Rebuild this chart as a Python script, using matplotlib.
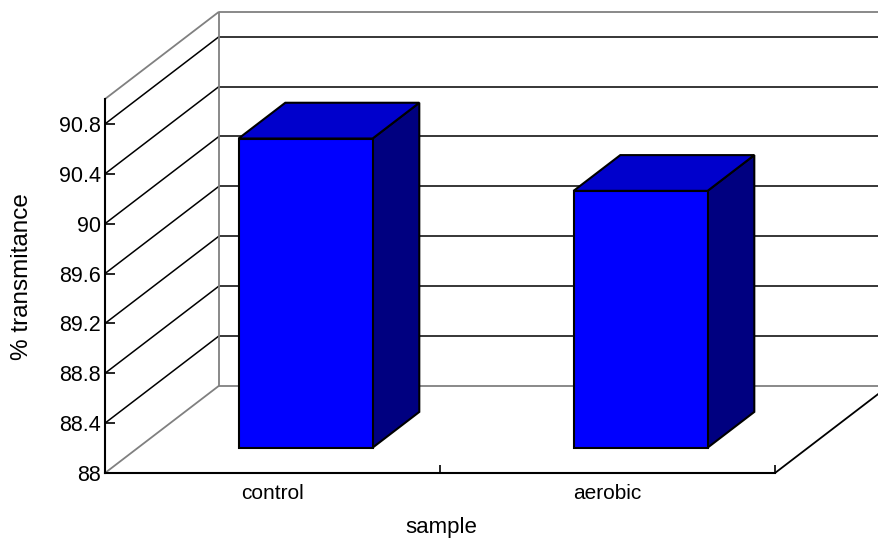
import numpy as np
import matplotlib
matplotlib.use("Agg")
import matplotlib.pyplot as plt
from matplotlib.patches import Polygon

plt.rcParams['font.family'] = ['Liberation Sans', 'DejaVu Sans']

# data
categories = ["control", "aerobic"]
transmittance = [90.48, 90.06]
y_ticks = [88.0, 88.4, 88.8, 89.2, 89.6, 90.0, 90.4, 90.8]
y_min, y_max = 88.0, 91.0

# oblique projection: depth z (0 = front, 1 = back) shifts x and y in data units
DX = 114 / 335
DY = 87 / 124.3


def proj(x, y, z):
    return x + z * DX, y + z * DY


fig = plt.figure(figsize=(8.79, 5.46), dpi=100)
ax = fig.add_axes([105 / 879, (546 - 473) / 546, 670 / 879, 374 / 546])
n = len(categories)
ax.set_xlim(0, n)
ax.set_ylim(y_min, y_max)


def line(p0, p1, color="black", lw=1.1, zorder=2):
    (x0, y0), (x1, y1) = proj(*p0), proj(*p1)
    ax.plot([x0, x1], [y0, y1], color=color, lw=lw, clip_on=False,
            zorder=zorder, solid_capstyle="butt")


GRAY = "#808080"
# back wall and left wall gridlines
for v in y_ticks[1:]:
    line((0, v, 1), (n, v, 1))
    line((0, v, 0), (0, v, 1))
# wall edges
line((0, y_max, 1), (n, y_max, 1), GRAY, 1.3)
line((0, y_max, 0), (0, y_max, 1), GRAY, 1.3)
line((0, y_min, 1), (n, y_min, 1), GRAY, 1.3)
line((0, y_min, 0), (0, y_min, 1), GRAY, 1.3)
line((0, y_min, 1), (0, y_max, 1), GRAY, 1.3)
line((n, y_min, 0), (n, y_min, 1), "black", 1.3)

# bars
half_w = 0.2
z0, z1 = 0.29, 0.70
for i, val in enumerate(transmittance):
    xc = i + 0.5
    xl, xr = xc - half_w, xc + half_w
    front = [proj(xl, y_min, z0), proj(xr, y_min, z0),
             proj(xr, val, z0), proj(xl, val, z0)]
    top = [proj(xl, val, z0), proj(xr, val, z0),
           proj(xr, val, z1), proj(xl, val, z1)]
    side = [proj(xr, y_min, z0), proj(xr, y_min, z1),
            proj(xr, val, z1), proj(xr, val, z0)]
    for pts, col in [(side, "#000080"), (top, "#0000CC"), (front, "#0000FF")]:
        ax.add_patch(Polygon(pts, closed=True, facecolor=col, edgecolor="black",
                             lw=1.5, joinstyle="miter", clip_on=False, zorder=5))

# axes styling
for s in ["top", "right"]:
    ax.spines[s].set_visible(False)
ax.spines["left"].set_linewidth(1.5)
ax.spines["bottom"].set_linewidth(1.5)
ax.spines["left"].set_zorder(6)
ax.spines["bottom"].set_zorder(6)
ax.set_yticks(y_ticks)
ax.set_yticklabels([f"{v:g}" for v in y_ticks])
ax.set_xticks(range(n + 1))
ax.set_xticklabels([])
ax.set_xticks([i + 0.5 for i in range(n)], minor=True)
ax.set_xticklabels(categories, minor=True)
ax.tick_params(axis="y", direction="in", length=7, width=1.2, pad=3, labelsize=15.5)
ax.tick_params(axis="x", which="major", direction="in", length=6, width=1.2)
ax.tick_params(axis="x", which="minor", length=0, pad=8, labelsize=15)
ax.patch.set_visible(False)

fig.text(22 / 879, 1 - 277 / 546, "% transmitance", rotation=90,
         ha="center", va="center", fontsize=17.5)
fig.text(441 / 879, 1 - 527 / 546, "sample", ha="center", va="center", fontsize=16)

fig.savefig("out.png", dpi=100)
